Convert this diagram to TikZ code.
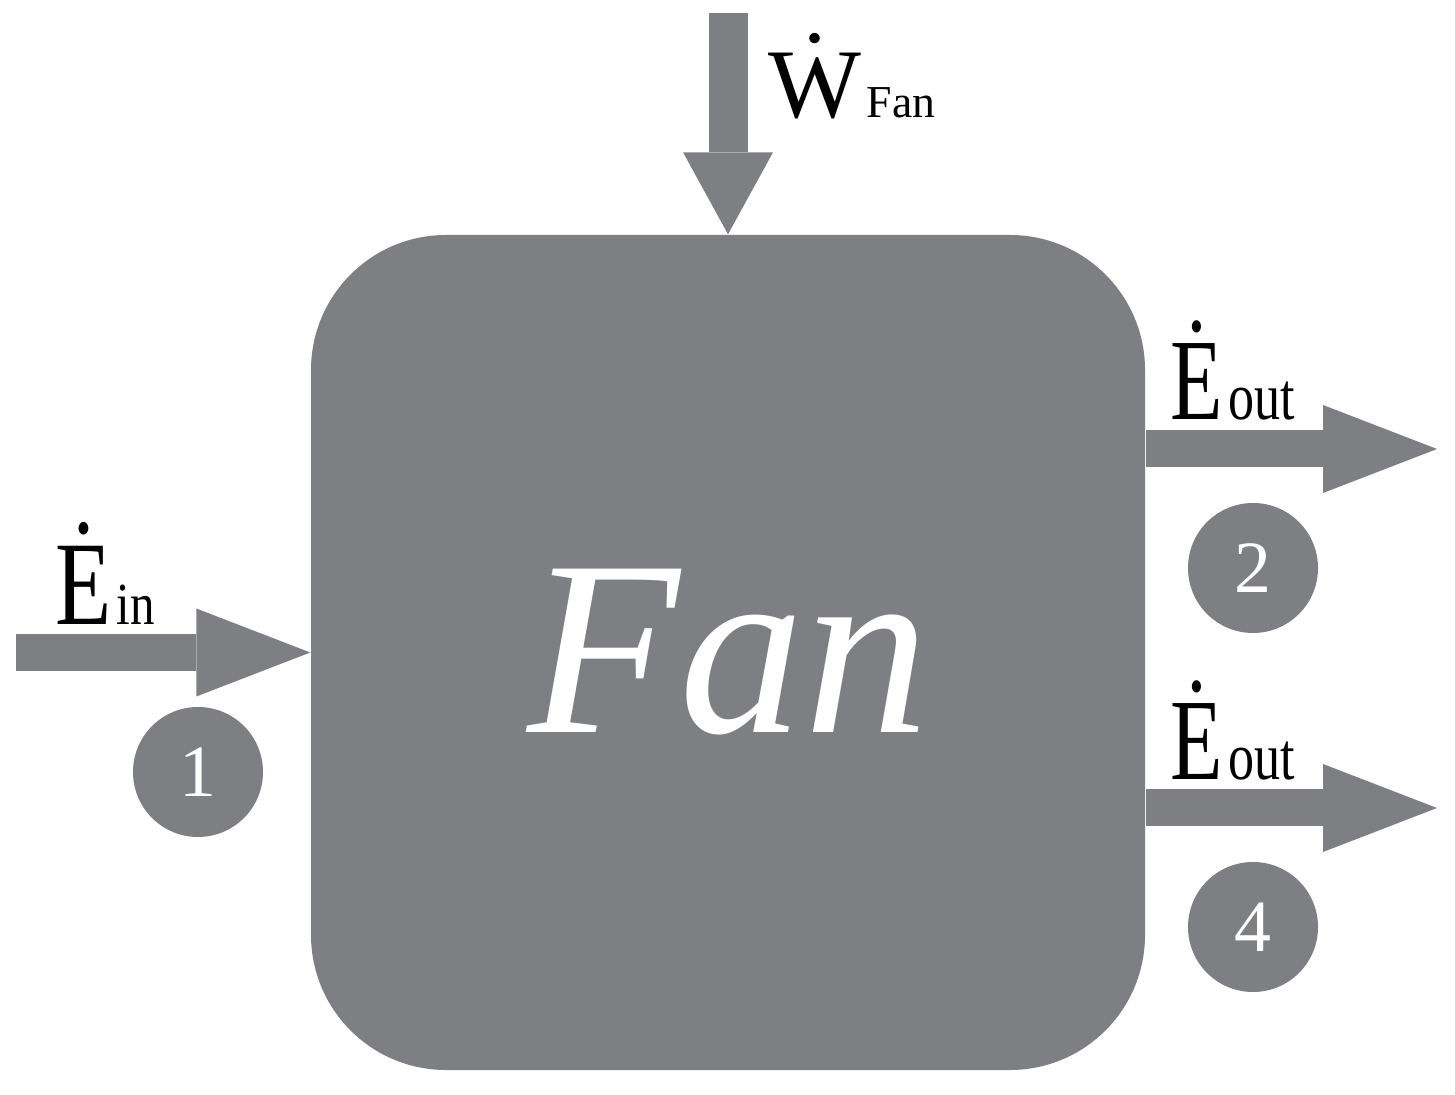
\documentclass[tikz,border=0pt]{standalone}
\usepackage{fontspec}
\setmainfont{Liberation Serif}
\usetikzlibrary{arrows.meta,positioning,shapes}
\usepackage{xcolor}
\definecolor{fangray}{RGB}{126,127,131}

\begin{document}
\begin{tikzpicture}[
    box/.style={rectangle, rounded corners=1.35cm, fill=fangray, inner sep=0pt,
        minimum width=8.34cm, minimum height=8.35cm, text=white},
    num/.style={circle, fill=fangray, inner sep=0pt, minimum size=1.3cm, text=white,
        font=\fontsize{21}{21}\selectfont},
    lbl/.style={anchor=base west, inner sep=0pt},
    flow/.style={fangray, line width=0.37cm,
        -{Triangle[length=1.14cm, width=0.88cm, line width=0pt]}}
]
    \useasboundingbox[fill=white] (0,0) rectangle (14.55,10.94);

    \node (fan) [box, shift={(7.28, 4.415)}]
    {
        \fontsize{71}{71}\selectfont\itshape Fan
    };

    \coordinate (w_start) at (7.28, 10.81);
    \coordinate (e_in_start) at (0.16, 4.415);
    \coordinate (e_out_top) at (14.37, 6.45);
    \coordinate (e_out_bottom) at (14.37, 2.86);

    \node (w_fan_label) [lbl, shift={(7.68, 9.76)}]
    {
        {\fontsize{28}{28}\selectfont\accent"02D9 W}\hspace{0.5mm}{\fontsize{13}{13}\selectfont Fan}
    };
    \node (e_in_label) [lbl, shift={(0.55, 4.69)}]
    {
        {\fontsize{34}{34}\selectfont\scalebox{0.77}[1]{\accent"02D9 E}}\hspace{0.5mm}{\fontsize{17}{17}\selectfont\scalebox{0.82}[1]{in}}
    };
    \node (e_out_top_label) [lbl, shift={(11.70, 6.74)}]
    {
        {\fontsize{33}{33}\selectfont\scalebox{0.74}[1]{\accent"02D9 E}}\hspace{0.5mm}{\fontsize{19}{19}\selectfont\scalebox{0.78}[1]{out}}
    };
    \node (e_out_bottom_label) [lbl, shift={(11.70, 3.14)}]
    {
        {\fontsize{33}{33}\selectfont\scalebox{0.74}[1]{\accent"02D9 E}}\hspace{0.5mm}{\fontsize{19}{19}\selectfont\scalebox{0.78}[1]{out}}
    };

    \node (state_1) [num, shift={(1.98, 3.22)}]
    {
        1
    };
    \node (state_2) [num, shift={(12.53, 5.26)}]
    {
        2
    };
    \node (state_4) [num, shift={(12.53, 1.67)}]
    {
        4
    };

    \draw[flow, line width=0.39cm, -{Triangle[length=0.82cm, width=0.9cm, line width=0pt]}] (w_start) to (fan.north);
    \draw[flow] (e_in_start) to (fan.west);
    \draw[flow] (fan.east |- e_out_top) to (e_out_top);
    \draw[flow] (fan.east |- e_out_bottom) to (e_out_bottom);
\end{tikzpicture}
\end{document}
